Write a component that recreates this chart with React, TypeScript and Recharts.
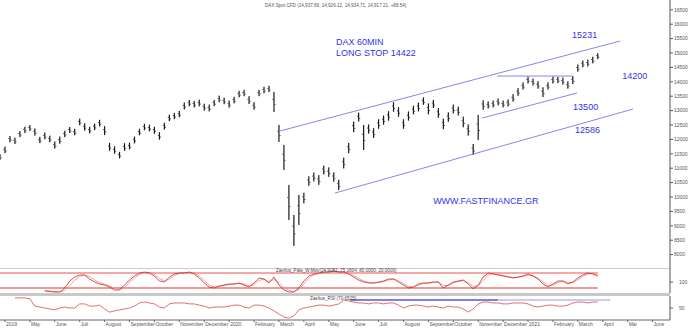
import React from 'react';
import { ComposedChart, Bar, Line, Scatter, XAxis, YAxis, ReferenceLine } from 'recharts';

// time in months since 1 April 2019
const times = [
  -0.2,
  0, 0.2, 0.4, 0.6, 0.8,
  1, 1.2, 1.4, 1.6, 1.8,
  2, 2.2, 2.4, 2.6, 2.8,
  3, 3.2, 3.4, 3.6, 3.8,
  4, 4.2, 4.4, 4.6, 4.8,
  5, 5.2, 5.4, 5.6, 5.8,
  6, 6.2, 6.4, 6.6, 6.8,
  7, 7.2, 7.4, 7.6, 7.8,
  8, 8.2, 8.4, 8.6, 8.8,
  9, 9.2, 9.4, 9.6, 9.8,
  10, 10.2, 10.4, 10.6, 10.8,
  11, 11.2, 11.4, 11.6, 11.8,
  12, 12.2, 12.4, 12.6, 12.8,
  13, 13.2, 13.4, 13.6, 13.8,
  14, 14.2, 14.4, 14.6, 14.8,
  15, 15.2, 15.4, 15.6, 15.8,
  16, 16.2, 16.4, 16.6, 16.8,
  17, 17.2, 17.4, 17.6, 17.8,
  18, 18.2, 18.4, 18.6, 18.8,
  19, 19.2, 19.4, 19.6, 19.8,
  20, 20.2, 20.4, 20.6, 20.8,
  21, 21.2, 21.4, 21.6, 21.8,
  22, 22.2, 22.4, 22.6, 22.8,
  23, 23.2, 23.4, 23.6, 23.8,
];

const highs = [
  11490, 11750, 12120, 12060, 12290, 12440, 12500, 12380, 12090, 12240,
  12130, 11930, 12100, 12300, 12430, 12370, 12720, 12560, 12440, 12550,
  12680, 12460, 11880, 11760, 11570, 11870, 11890, 12100, 12370, 12540,
  12510, 12440, 12250, 12580, 12860, 12920, 12990, 13280, 13370, 13340,
  13380, 13240, 13210, 13370, 13520, 13450, 13350, 13480, 13690, 13720,
  13500, 13290, 13720, 13830, 13860, 13650, 12500, 11810, 10420, 9380,
  10070, 10150, 10720, 10850, 10760, 11090, 11030, 10860, 10600, 11370,
  11880, 12620, 12930, 12500, 12520, 12390, 12700, 12830, 12980, 13290,
  13120, 12700, 12970, 13170, 13280, 13460, 13250, 13370, 13090, 12720,
  12940, 13210, 13140, 12790, 12520, 11840, 12850, 13360, 13320, 13350,
  13420, 13350, 13390, 13570, 13780, 13980, 14180, 14110, 14020, 13810,
  13980, 14180, 14170, 14150, 14020, 14200, 14600, 14740, 14770, 14870,
  14990,
];

const lows = [
  11290, 11520, 11900, 11840, 12080, 12220, 12290, 12130, 11870, 12000,
  11900, 11680, 11850, 12080, 12220, 12140, 12490, 12300, 12210, 12320,
  12450, 12150, 11600, 11500, 11340, 11600, 11650, 11860, 12140, 12320,
  12280, 12200, 11990, 12340, 12630, 12700, 12770, 13040, 13150, 13110,
  13150, 13000, 12970, 13150, 13290, 13220, 13100, 13250, 13460, 13500,
  13230, 13030, 13500, 13600, 13640, 12950, 11910, 10940, 9200, 8300,
  9030, 9780, 10390, 10540, 10420, 10780, 10700, 10530, 10240, 10990,
  11520, 12250, 12620, 11630, 12200, 12050, 12370, 12510, 12650, 12960,
  12790, 12370, 12650, 12870, 12970, 13200, 12870, 13090, 12750, 12350,
  12610, 12900, 12830, 12420, 12130, 11460, 11980, 13030, 13070, 13110,
  13180, 13110, 13140, 13310, 13510, 13730, 13940, 13870, 13760, 13470,
  13730, 13940, 13950, 13900, 13760, 13920, 14350, 14500, 14530, 14640,
  14790,
];

// oscillator (starts at index 9)
const oscFast = [
  8, 6, 4, 4, 20, 48, 64, 72, 72, 56,
  44, 36, 32, 24, 12, 12, 32, 52, 68, 80,
  84, 80, 68, 48, 44, 64, 76, 80, 80, 84,
  76, 60, 40, 24, 20, 28, 32, 36, 36, 40,
  32, 24, 40, 60, 56, 40, 64, 32, 12, 4,
  4, 20, 48, 68, 76, 80, 84, 84, 88, 84,
  84, 76, 64, 52, 44, 40, 40, 44, 48, 56,
  56, 44, 32, 20, 24, 36, 40, 40, 44, 44,
  20, 32, 44, 48, 52, 36, 16, 32, 64, 80,
  76, 72, 68, 64, 60, 64, 68, 76, 68, 56,
  36, 24, 36, 48, 48, 36, 44, 60, 72, 80,
  76, 68,
];
const oscSlow = [
  10, 8, 6, 5, 10, 30, 52, 66, 72, 66,
  52, 42, 35, 28, 18, 14, 22, 42, 60, 74,
  82, 82, 74, 58, 48, 56, 70, 78, 80, 82,
  80, 68, 50, 32, 24, 26, 30, 34, 36, 38,
  36, 28, 34, 50, 56, 46, 54, 42, 22, 10,
  6, 14, 36, 58, 72, 78, 82, 84, 86, 86,
  84, 80, 70, 58, 48, 42, 40, 42, 46, 52,
  56, 50, 38, 26, 24, 32, 38, 40, 42, 44,
  30, 30, 40, 46, 50, 42, 26, 28, 50, 72,
  78, 74, 70, 66, 62, 62, 66, 72, 70, 60,
  44, 30, 32, 42, 48, 42, 42, 54, 66, 76,
  78, 72,
];
const OSC_START = 9;

// RSI (starts at index 3)
const rsiValues = [
  92, 92, 92, 88, 58, 54, 50, 46, 42, 50,
  54, 50, 50, 67, 67, 58, 58, 62, 46, 33,
  38, 42, 46, 50, 58, 71, 75, 71, 67, 54,
  50, 67, 71, 71, 71, 67, 67, 62, 58, 50,
  54, 54, 54, 58, 62, 62, 54, 50, 62, 62,
  58, 50, 38, 25, 12, 8, 17, 42, 50, 54,
  58, 62, 62, 58, 62, 67, 83, 79, 75, 71,
  71, 67, 71, 71, 67, 71, 71, 62, 50, 58,
  62, 62, 58, 54, 58, 54, 50, 58, 54, 54,
  46, 33, 46, 67, 75, 75, 71, 71, 67, 67,
  71, 71, 71, 67, 58, 54, 58, 62, 62, 58,
  58, 62, 71, 75, 75, 71, 75, 75,
];
const RSI_START = 3;

const monthTicks = [0, 1, 2, 3, 4, 5, 6, 7, 8, 9, 10, 11, 12, 13, 14, 15, 16, 17, 18, 19, 20, 21, 22, 23, 24, 25, 26];
const monthLabels = [
  '2019', 'May', 'June', 'Juli', 'August', 'September', 'October', 'November', 'December',
  '2020', 'February', 'March', 'April', 'May', 'June', 'Juli', 'August', 'September', 'October',
  'November', 'December', '2021', 'February', 'March', 'April', 'Mai', 'June',
];
const priceTicks = [8000, 8500, 9000, 9500, 10000, 10500, 11000, 11500, 12000, 12500, 13000, 13500, 14000, 14500, 15000, 15500, 16000, 16500];

// trend lines [t1, p1, t2, p2]
const upperChannel = [11.04, 12292, 24.7, 15416];
const lowerChannel = [13.25, 10139, 25.22, 13055];
const shortSupport = [19.16, 12743, 22.97, 13611];
const resistance = [19.76, 14200, 22.77, 14200];

const annotations = [
  { t: 13.29, p: 15278, text: 'DAX 60MIN' },
  { t: 13.29, p: 14896, text: 'LONG STOP 14422' },
  { t: 22.77, p: 15521, text: '15231' },
  { t: 24.78, p: 14097, text: '14200' },
  { t: 22.81, p: 13021, text: '13500' },
  { t: 22.89, p: 12222, text: '12586' },
  { t: 17.19, p: 9757, text: 'WWW.FASTFINANCE.GR' },
];
const titleNote = [{ t: 10.44, p: 16597, text: 'DAX Spot CFD (14,937.69, 14,926.12, 14,934.71, 14,917.21, +88.54)' }];

const oscTitle = 'Zaeltus_Pale_W.Mov(24.9082, 75.1604, 80.0000, 20.0000)';
const rsiTitle = 'Zaeltus_RSI (70.6525)';

const X_DOMAIN: [number, number] = [-0.2, 26.7];
const BLUE = '#3333e6';
const LINE_BLUE = '#7878e8';
const FONT = 'Arial, "Liberation Sans", sans-serif';

const table = times.map((t, i) => ({
  t,
  range: [lows[i], highs[i]],
  oscFast: i >= OSC_START ? oscFast[i - OSC_START] : null,
  oscSlow: i >= OSC_START ? oscSlow[i - OSC_START] : null,
  rsi: i >= RSI_START ? rsiValues[i - RSI_START] : null,
}));

const PriceBar = (props: any) => {
  const { x, y, width, height } = props;
  if (x == null || y == null) return null;
  const cx = x + width / 2;
  const top = height < 0 ? y + height : y;
  const h = Math.max(Math.abs(height), 1);
  return (
    <g>
      <rect x={cx - 0.6} y={top} width={1.2} height={h} fill="#1a1a1a" />
      <rect x={cx - 1.6} y={top + h * 0.35} width={1} height={0.8} fill="#1a1a1a" />
      <rect x={cx + 0.6} y={top + h * 0.6} width={1} height={0.8} fill="#1a1a1a" />
    </g>
  );
};

const AnnotText = (props: any) => {
  const { cx, cy, payload } = props;
  if (cx == null) return null;
  return (
    <text x={cx} y={cy} fontSize={9} fill={BLUE} fontFamily={FONT}>
      {payload.text}
    </text>
  );
};
const TitleText = (props: any) => {
  const { cx, cy, payload } = props;
  if (cx == null) return null;
  return (
    <text x={cx} y={cy} fontSize={4.6} fill="#555" fontFamily={FONT}>
      {payload.text}
    </text>
  );
};

const MonthTick = (props: any) => {
  const { x, y, payload } = props;
  return (
    <text x={x + 1} y={y} dy={4} fontSize={5} fill="#555" textAnchor="start" fontFamily={FONT}>
      {monthLabels[payload.value]}
    </text>
  );
};

const seg = (a: number[]) => [
  { x: a[0], y: a[1] },
  { x: a[2], y: a[3] },
];

export default function App() {
  return (
    <div style={{ position: 'absolute', left: 0, top: 0, width: 690, height: 328, background: '#fff', fontFamily: FONT }}>
      <div style={{ position: 'absolute', left: 0, top: 0 }}>
        <ComposedChart width={690} height={268} data={table} margin={{ top: 0, right: 0, bottom: 0, left: 0 }}>
          <XAxis dataKey="t" type="number" domain={X_DOMAIN} allowDataOverflow hide />
          <YAxis
            orientation="right"
            width={20}
            type="number"
            domain={[7535, 16840]}
            allowDataOverflow
            ticks={priceTicks}
            interval={0}
            tickSize={3}
            tickMargin={1}
            tick={{ fontSize: 5, fill: '#555', fontFamily: FONT }}
            stroke="#555"
          />
          <ReferenceLine segment={seg(upperChannel)} stroke={LINE_BLUE} strokeWidth={0.9} ifOverflow="visible" />
          <ReferenceLine segment={seg(lowerChannel)} stroke={LINE_BLUE} strokeWidth={0.9} ifOverflow="visible" />
          <ReferenceLine segment={seg(shortSupport)} stroke={LINE_BLUE} strokeWidth={0.9} ifOverflow="visible" />
          <ReferenceLine segment={seg(resistance)} stroke={LINE_BLUE} strokeWidth={0.9} ifOverflow="visible" />
          <Bar dataKey="range" barSize={2} shape={PriceBar} isAnimationActive={false} />
          <Scatter data={annotations} dataKey="p" shape={AnnotText} isAnimationActive={false} />
          <Scatter data={titleNote} dataKey="p" shape={TitleText} isAnimationActive={false} />
        </ComposedChart>
      </div>

      <div style={{ position: 'absolute', left: 0, top: 268 }}>
        <ComposedChart width={690} height={25} data={table} margin={{ top: 0, right: 0, bottom: 0, left: 0 }}>
          <XAxis dataKey="t" type="number" domain={X_DOMAIN} allowDataOverflow hide />
          <YAxis
            orientation="right"
            width={20}
            type="number"
            domain={[0, 100]}
            ticks={[44]}
            tickFormatter={() => '100'}
            tickSize={3}
            tickMargin={6}
            tick={{ fontSize: 5, fill: '#555', fontFamily: FONT }}
            stroke="#555"
          />
          <ReferenceLine y={100} stroke="#999" strokeWidth={1} />
          <ReferenceLine segment={[{ x: -0.2, y: 80 }, { x: 23.8, y: 80 }]} stroke="#f6a8a8" strokeWidth={2} />
          <ReferenceLine segment={[{ x: -0.2, y: 20 }, { x: 23.8, y: 20 }]} stroke="#e03535" strokeWidth={1.2} />
          <Line dataKey="oscSlow" stroke="#f08a8a" strokeWidth={0.8} dot={false} isAnimationActive={false} />
          <Line dataKey="oscFast" stroke="#c82828" strokeWidth={0.8} dot={false} isAnimationActive={false} />
        </ComposedChart>
        <div style={{ position: 'absolute', left: 276, top: 0, fontSize: 4.6, color: '#444', whiteSpace: 'nowrap', lineHeight: '6px' }}>
          {oscTitle}
        </div>
      </div>

      <div style={{ position: 'absolute', left: 0, top: 293, width: 670, height: 2.5, background: '#c8c8c8' }} />

      <div style={{ position: 'absolute', left: 0, top: 296 }}>
        <ComposedChart width={690} height={32} data={table} margin={{ top: 0, right: 0, bottom: 0, left: 0 }}>
          <XAxis
            dataKey="t"
            type="number"
            domain={X_DOMAIN}
            allowDataOverflow
            ticks={monthTicks}
            interval={0}
            height={8}
            tickSize={2}
            tickMargin={0}
            tick={MonthTick}
            stroke="#666"
          />
          <YAxis
            orientation="right"
            width={20}
            type="number"
            domain={[0, 100]}
            ticks={[50]}
            tickSize={3}
            tickMargin={6}
            tick={{ fontSize: 5, fill: '#555', fontFamily: FONT }}
            stroke="#555"
          />
          <ReferenceLine segment={[{ x: 13.86, y: 83 }, { x: 19.8, y: 83 }]} stroke="#5555dd" strokeWidth={1.5} />
          <ReferenceLine segment={[{ x: 19.8, y: 83 }, { x: 24.3, y: 83 }]} stroke="#b8b8f2" strokeWidth={1.5} />
          <Line dataKey="rsi" stroke="#e04848" strokeWidth={0.8} dot={false} isAnimationActive={false} />
        </ComposedChart>
        <div style={{ position: 'absolute', left: 310, top: 0, fontSize: 4.6, color: '#444', whiteSpace: 'nowrap', lineHeight: '6px' }}>
          {rsiTitle}
        </div>
      </div>
    </div>
  );
}
